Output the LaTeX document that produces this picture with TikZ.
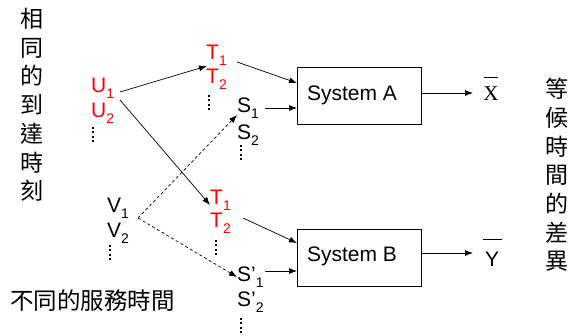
\documentclass[tikz,border=0pt]{standalone}
\usepackage{fontspec}
\setmainfont{Liberation Sans}
\newfontfamily\cjk{Noto Sans CJK TC}
\newfontfamily\timesfont{Liberation Serif}
\usetikzlibrary{arrows.meta}
\newcommand\sbs[1]{\raisebox{-0.28em}{\fontsize{14}{14}\selectfont #1}}
\tikzset{
  lbl/.style={anchor=base west, inner sep=0pt, font=\fontsize{21}{21}\selectfont},
  red lbl/.style={lbl, text=red},
  sysbox/.style={draw, line width=0.8pt, anchor=north west, inner sep=0pt},
  arr/.style={-{Latex[length=8pt,width=6pt]}, line width=0.7pt},
  dasharr/.style={arr, dash pattern=on 3pt off 2.5pt},
  dotcol/.style={line width=2pt, dash pattern=on 1.6pt off 2.9pt},
  bar/.style={line width=1pt},
  vtext/.style={align=center, inner sep=0pt, anchor=north,
    font=\cjk\fontsize{23}{28.7}\selectfont},
}
\begin{document}
\begin{tikzpicture}[x=1pt, y=-1pt]
\useasboundingbox (0,0) rectangle (571,336);

% vertical captions
\node[vtext] (arrive) at (32,8) {相\\同\\的\\到\\達\\時\\刻};
\node[vtext] (diff) at (557,78) {等\\候\\時\\間\\的\\差\\異};
\node[anchor=base west, inner sep=0pt, font=\cjk\fontsize{23.5}{23.5}\selectfont] (serv) at (10,310) {不同的服務時間};

% arrival streams
\node[red lbl] (u1) at (91,93) {U\sbs{1}};
\node[red lbl] (u2) at (91,118) {U\sbs{2}};
\draw[dotcol] (93,127) -- (93,143);
\node[lbl] (v1) at (107,213) {V\sbs{1}};
\node[lbl] (v2) at (107,238) {V\sbs{2}};
\draw[dotcol] (110,245) -- (110,261);

% inputs of system A
\node[red lbl] (t1a) at (206,60) {T\sbs{1}};
\node[red lbl] (t2a) at (206,84) {T\sbs{2}};
\draw[dotcol] (209,95) -- (209,111);
\node[lbl] (s1) at (237,113) {S\sbs{1}};
\node[lbl] (s2) at (237,140) {S\sbs{2}};
\draw[dotcol] (241,145) -- (241,161);

% inputs of system B
\node[red lbl] (t1b) at (210,205) {T\sbs{1}};
\node[red lbl] (t2b) at (210,228) {T\sbs{2}};
\draw[dotcol] (216,240) -- (216,256);
\node[lbl] (sp1) at (237,282) {S’\sbs{1}};
\node[lbl] (sp2) at (237,307) {S’\sbs{2}};
\draw[dotcol] (241,318) -- (241,334);

% the two systems
\node[sysbox, minimum width=124pt, minimum height=57pt] (sysA) at (297,67) {};
\node[lbl, anchor=center] (labA) at (352,95) {System A};
\node[sysbox, minimum width=124pt, minimum height=57pt] (sysB) at (297,229) {};
\node[lbl, anchor=center] (labB) at (352,256) {System B};

% mean waiting times, each with its bar
\node[anchor=base, inner sep=0pt, font=\timesfont\fontsize{21}{21}\selectfont] (xbar) at (491,101) {X};
\draw[bar] (484,77.5) -- (498,77.5);
\node[anchor=base, inner sep=0pt, font=\fontsize{21}{21}\selectfont] (ybar) at (492,267) {Y};
\draw[bar] (483,239.5) -- (502,239.5);

% connector end points
\coordinate (uA) at (120,92);
\coordinate (uB) at (120,100);
\coordinate (tA) at (207,66);
\coordinate (tB) at (210,205);
\coordinate (vs) at (138,218);
\coordinate (sA) at (237,115);
\coordinate (sB) at (237,277);

\draw[arr] (uA) -- (tA);
\draw[arr] (uB) -- (tB);
\draw[dasharr] (vs) -- (sA);
\draw[dasharr] (vs) -- (sB);
\draw[arr] (237,62) -- (sysA.west |- 0,83);
\draw[arr] (265,108) -- (sysA.west |- 0,108);
\draw[arr] (243,218) -- (sysB.west |- 0,243);
\draw[arr] (265,271) -- (sysB.west |- 0,271);
\draw[arr] (sysA.east |- 0,93) -- (473,93);
\draw[arr] (sysB.east |- 0,253) -- (473,253);
\end{tikzpicture}
\end{document}
